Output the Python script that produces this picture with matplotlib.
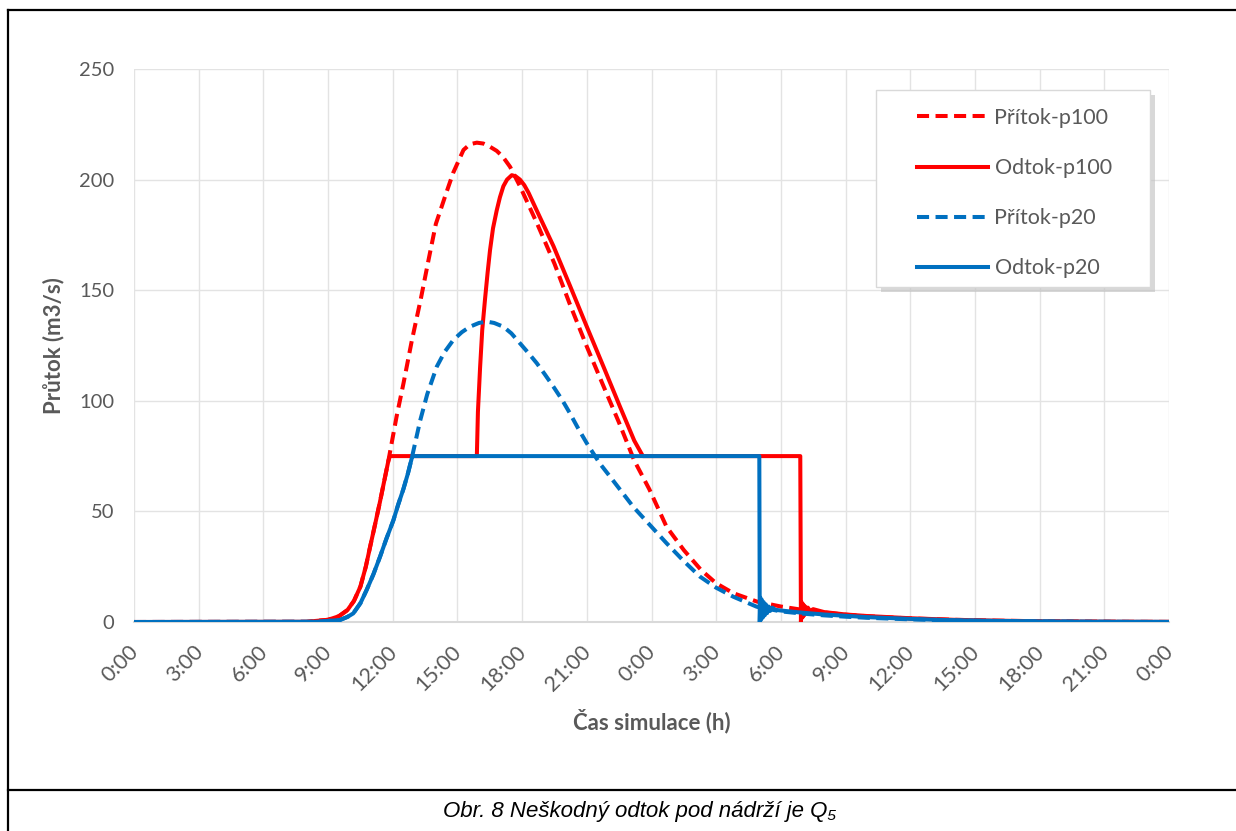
import matplotlib
matplotlib.use("Agg")
import matplotlib.pyplot as plt
from matplotlib.lines import Line2D
from matplotlib.patches import Rectangle
from matplotlib.transforms import ScaledTranslation

# hours from start of simulation, discharge in m3/s
t_in100 = [0, 8.0, 9.0, 9.5, 9.9, 10.2, 10.5, 10.75, 10.95, 11.2, 11.4, 11.6, 11.8,
           12.18, 12.5, 12.88, 13.3, 13.66, 14.0, 14.5, 14.8, 15.28, 15.58, 15.9, 16.2,
           16.5, 16.82, 17.1, 17.44, 17.9, 18.7, 19.5, 20.2, 21.0, 21.8, 22.5, 23.2,
           23.9, 24.7, 25.5, 26.3, 27.0, 27.8, 28.9, 30, 31, 32, 33, 34, 36, 38, 40,
           42, 44, 46, 48]
q_in100 = [0, 0.1, 1.0, 2.6, 5.4, 9.5, 16, 25, 34, 45, 54, 63.5, 73,
           93, 108, 127, 146, 163.7, 180, 194.5, 203, 213.4, 216, 216.7, 216.3,
           214.9, 213, 210.4, 205.8, 197, 180, 162, 144, 124.5, 106, 90, 73,
           60, 43, 32.5, 23.5, 17.5, 13, 9.2, 7.0, 5.5, 4.3, 3.3, 2.6, 1.6, 1.0, 0.6,
           0.35, 0.2, 0.1, 0.05]

t_out100 = [0, 8.0, 9.0, 9.5, 9.9, 10.2, 10.5, 10.75, 10.95, 11.2, 11.4, 11.6, 11.8,
            11.87, 15.9, 15.95, 16.05, 16.15, 16.28, 16.4, 16.51, 16.65, 16.82, 16.97,
            17.13, 17.3, 17.52, 17.7, 17.9, 18.1, 18.3, 18.68, 19.45, 20.22, 21.0,
            21.77, 22.54, 23.2, 23.6, 30.9, 30.93, 30.96, 31.0, 31.04, 31.08, 31.13,
            31.18, 31.25, 31.35, 31.5, 32, 33, 34, 36, 38, 40, 42, 44, 46, 48]
q_out100 = [0, 0.1, 1.0, 2.6, 5.4, 9.5, 16, 25, 34, 45, 54, 63.5, 73,
            75, 75, 95, 115, 132, 146, 158, 168, 178, 186, 192,
            197, 200, 202, 201.5, 200, 197.5, 194, 186, 170, 152, 133.5,
            115.5, 97.3, 82, 75, 75, 0, 9, 2, 8, 3, 7,
            4, 6.5, 5, 5.8, 4.5, 3.4, 2.7, 1.7, 1.0, 0.6, 0.35, 0.2, 0.1, 0.05]

t_in20 = [0, 8.5, 9.55, 9.9, 10.17, 10.5, 10.79, 11.1, 11.41, 11.7, 12.03, 12.25,
          12.49, 12.7, 12.88, 13.27, 13.6, 14.04, 14.4, 14.81, 15.2, 15.58, 16.0,
          16.36, 16.7, 17.13, 17.5, 17.9, 18.3, 18.68, 19.05, 19.45, 19.85, 20.22,
          20.6, 21.0, 21.6, 22.08, 23.16, 24.7, 25.5, 26.25, 27.0, 27.8, 28.88, 30,
          31, 32, 33, 34, 36, 38, 40, 42, 44, 46, 48]
q_in20 = [0, 0.1, 0.9, 2.3, 3.9, 8.5, 14.5, 21.5, 29.5, 37.5, 46, 53,
          60, 67, 74, 91, 103, 115.4, 122, 127.5, 131, 133.5, 135.2,
          135.8, 135.2, 133.5, 130.5, 126, 121.5, 117, 112, 106.4, 100.5, 94.3,
          87.5, 80.8, 71.7, 65.7, 52, 35.6, 27.5, 20.5, 15.5, 11.4, 6.9, 4.8,
          3.8, 3.0, 2.4, 1.9, 1.2, 0.7, 0.4, 0.25, 0.12, 0.05, 0]

t_out20 = [0, 8.5, 9.55, 9.9, 10.17, 10.5, 10.79, 11.1, 11.41, 11.7, 12.03, 12.25,
           12.49, 12.7, 12.88, 12.92, 29.0, 29.02, 29.05, 29.08, 29.12, 29.16, 29.2,
           29.25, 29.3, 29.36, 29.43, 29.5, 29.6, 29.75, 30, 31, 32, 33, 34, 36, 38,
           40, 42, 44, 46, 48]
q_out20 = [0, 0.1, 0.9, 2.3, 3.9, 8.5, 14.5, 21.5, 29.5, 37.5, 46, 53,
           60, 67, 74, 75, 75, 0, 11, 1, 10, 2, 9,
           3, 8, 4, 7, 5, 6.5, 5.5, 5.2, 4.2, 3.4, 2.8, 2.2, 1.4, 0.8,
           0.5, 0.3, 0.15, 0.08, 0.05]

labels = ["Přítok-p100", "Odtok-p100", "Přítok-p20", "Odtok-p20"]
hour_ticks = list(range(0, 49, 3))
tick_labels = [f"{h % 24}:00" for h in hour_ticks]

RED = "#FF0000"
BLUE = "#0070C0"
GRAY = "#595959"
W, H = 1236, 831

plt.rcParams["font.family"] = ["Lato", "DejaVu Sans"]

fig = plt.figure(figsize=(W / 100, H / 100), dpi=100)
ax = fig.add_axes([134 / W, 1 - 622 / H, 1035 / W, 553 / H])

lw = 2.9
dash = (3, 1.6)
ax.plot(t_in100, q_in100, color=RED, lw=lw, dashes=dash, label=labels[0], zorder=3)
ax.plot(t_out100, q_out100, color=RED, lw=lw, label=labels[1], zorder=3)
ax.plot(t_in20, q_in20, color=BLUE, lw=lw, dashes=dash, label=labels[2], zorder=3)
ax.plot(t_out20, q_out20, color=BLUE, lw=lw, label=labels[3], zorder=3)

ax.set_xlim(0, 48)
ax.set_ylim(0, 250)
ax.set_xticks(hour_ticks)
ax.set_xticklabels(tick_labels, rotation=45, ha="right", va="center",
                   rotation_mode="anchor")
ax.set_yticks(range(0, 251, 50))
ax.tick_params(axis="both", length=0, labelcolor=GRAY)
ax.tick_params(axis="x", pad=14, labelsize=15.5)
ax.tick_params(axis="y", pad=14, labelsize=14.5)
shift = ScaledTranslation(0.01, -0.07, fig.dpi_scale_trans)
for lab in ax.get_xticklabels():
    lab.set_transform(lab.get_transform() + shift)
for s in ["left", "right", "top"]:
    ax.spines[s].set_visible(False)
ax.spines["bottom"].set_color("#D9D9D9")
ax.spines["bottom"].set_linewidth(1.5)
ax.grid(True, color="#E3E3E3", lw=1.0)
ax.set_axisbelow(True)

ax.set_xlabel("Čas simulace (h)", fontsize=16, fontweight="bold", color=GRAY, labelpad=10)
ax.set_ylabel("Průtok (m3/s)", fontsize=16, fontweight="bold", color=GRAY, labelpad=11)

# legend box with shadow
bx0, by0, bw, bh = (876 - 134) / 1035, (622 - 287) / 553, 274 / 1035, 197 / 553
ax.add_patch(Rectangle((bx0 + 5 / 1035, by0 - 5 / 553), bw, bh, transform=ax.transAxes,
                       facecolor="#BFBFBF", edgecolor="none", alpha=0.6, zorder=4,
                       clip_on=False))
ax.add_patch(Rectangle((bx0, by0), bw, bh, transform=ax.transAxes, facecolor="white",
                       edgecolor="#D9D9D9", lw=1, zorder=4.5, clip_on=False))
leg = ax.legend(loc="upper left", bbox_to_anchor=((917 - 134) / 1035, (622 - 108) / 553),
                frameon=False, fontsize=15.5, handlelength=3.3, handletextpad=0.3,
                labelspacing=1.4, borderpad=0, borderaxespad=0)
leg.set_zorder(5)
for t in leg.get_texts():
    t.set_color(GRAY)

# page frame and caption
def fig_line(x0, y0, x1, y1):
    fig.add_artist(Line2D([x0 / W, x1 / W], [1 - y0 / H, 1 - y1 / H],
                          transform=fig.transFigure, color="black", lw=1.6))

fig_line(8, 10, W, 10)
fig_line(8, 10, 8, H)
fig_line(8, 790, W, 790)
fig.text(640 / W, 1 - 811 / H, "Obr. 8 Neškodný odtok pod nádrží je Q₅",
         family=["Liberation Sans Narrow", "Liberation Sans", "DejaVu Sans"],
         style="italic", fontsize=16, ha="center", va="center", color="black")

fig.savefig("out.png", dpi=100)
